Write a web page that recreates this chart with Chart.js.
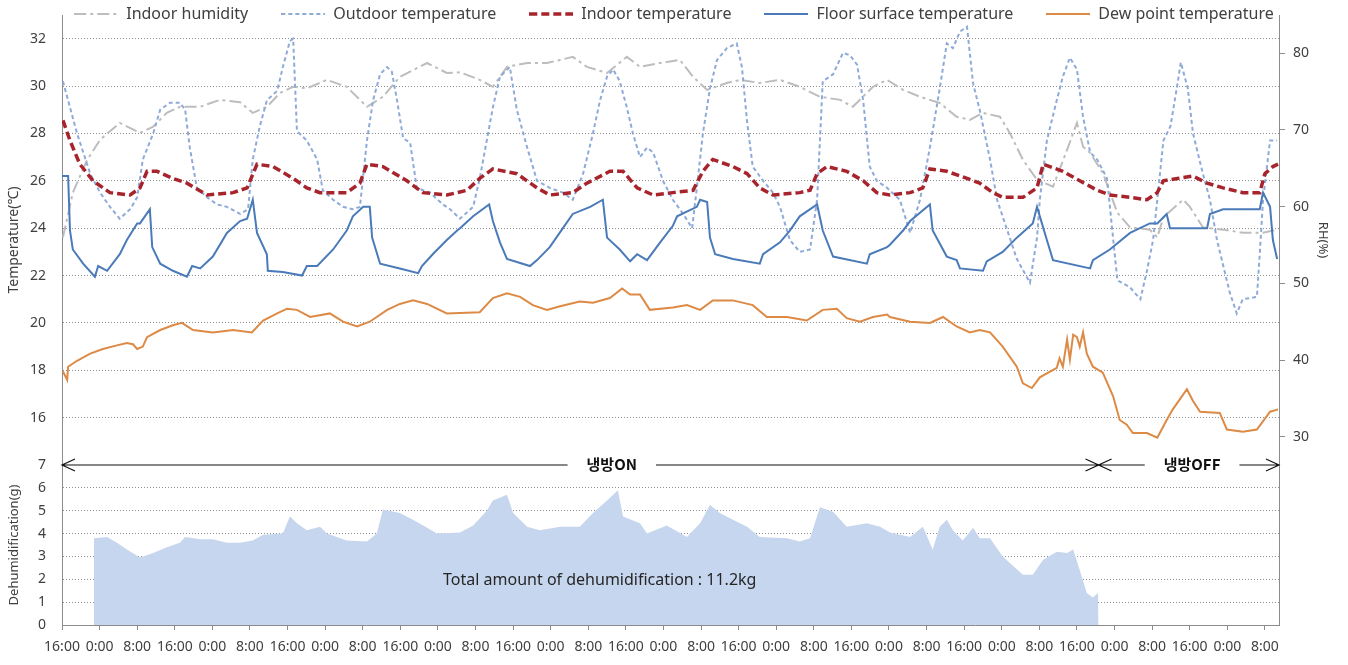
<!DOCTYPE html>
<html lang="en"><head><meta charset="utf-8"><title>Temperature, humidity and dehumidification</title>
<script src="https://cdn.jsdelivr.net/npm/chart.js@4/dist/chart.umd.min.js"></script>
<style>
html,body{margin:0;padding:0;background:#ffffff;overflow:hidden;}
#box{position:relative;width:1348px;height:665px;}
</style></head>
<body><div id="box"><canvas id="chart" width="1348" height="665"></canvas></div>
<script>
// ---------- data (hours counted from the first 16:00 tick) ----------
const seriesNames = ['Indoor humidity','Outdoor temperature','Indoor temperature','Floor surface temperature','Dew point temperature','Dehumidification'];
const xTickLabels = ['16:00','0:00','8:00','16:00','0:00','8:00','16:00','0:00','8:00','16:00','0:00',
  '8:00','16:00','0:00','8:00','16:00','0:00','8:00','16:00','0:00','8:00','16:00','0:00',
  '8:00','16:00','0:00','8:00','16:00','0:00','8:00','16:00','0:00','8:00'];
const tempTicks = [16,18,20,22,24,26,28,30,32];
const rhTicks = [30,40,50,60,70,80];
const dehumTicks = [0,1,2,3,4,5,6,7];

const humHours = [0.2,2.3,5.3,8.1,12.3,16.6,19.4,22.3,25.1,29.4,33.6,37.9,40.6,43.6,46.4,49.2,52.1,56.4,60.6,63.4,64.9,68.3,71.9,77.7,81.9,84.7,88.9,91.7,94.7,99.0,103.2,106.0,108.7,111.7,116.0,120.2,123.0,127.3,131.5,134.3,137.3,141.5,144.3,148.5,152.8,157.0,161.3,165.6,168.3,172.6,175.6,179.0,182.6,186.8,190.4,193.2,196.0,199.6,201.7,204.5,207.5,210.9,213.9,216.0,217.3,218.8,221.5,224.6,227.3,231.5,233.1,234.4,238.6,240.0,242.8,247.1,251.3,255.6,258.6];
const humValues = [56.0,61.8,66.0,68.7,70.9,69.6,70.4,72.2,73.0,73.0,73.9,73.6,72.2,73.0,74.8,75.6,75.4,76.5,75.6,73.9,73.0,74.3,76.9,78.7,77.4,77.5,76.5,75.6,78.2,78.7,78.7,79.1,79.5,78.2,77.4,79.5,78.2,78.7,79.1,76.9,75.2,76.1,76.5,76.1,76.5,75.6,74.3,73.9,73.0,75.6,76.5,75.2,74.3,73.5,71.7,71.3,72.2,71.7,69.6,66.1,63.5,62.6,67.4,70.9,67.8,67.0,64.4,59.2,57.3,57.0,56.0,58.6,60.9,60.0,57.3,57.0,56.6,56.6,57.0];

const outHours = [0.2,3.2,6.0,8.1,10.2,12.3,14.5,16.0,17.2,19.4,20.9,23.0,25.1,26.2,27.2,28.7,30.9,33.0,35.1,37.9,39.6,40.6,42.1,43.6,45.8,47.0,48.5,49.2,50.0,52.1,54.3,55.5,57.7,59.8,61.9,63.4,64.9,66.2,67.7,69.2,70.2,71.3,72.6,74.1,75.5,78.3,81.1,82.6,84.7,87.5,88.9,90.4,91.7,93.2,95.3,96.8,99.0,101.1,103.8,106.6,108.7,110.9,113.0,114.5,116.0,117.3,118.7,120.2,121.5,123.0,124.5,125.8,127.9,130.0,132.2,134.1,135.1,136.4,137.9,139.4,141.5,143.6,144.7,145.8,147.0,149.2,151.3,152.8,154.9,157.0,159.2,160.2,160.7,161.9,164.1,166.2,167.7,169.2,170.5,171.9,173.4,175.6,178.3,180.5,182.6,184.7,186.8,188.3,189.6,191.1,192.6,193.9,195.3,197.5,199.0,203.2,206.0,207.5,208.1,209.6,211.7,213.0,214.5,216.0,217.3,218.8,220.3,222.4,224.6,227.3,229.5,230.9,232.2,233.1,234.4,235.9,237.4,238.1,239.6,240.7,242.8,244.3,245.8,248.5,250.0,251.3,254.3,254.9,255.6,257.1,258.6];
const outValues = [30.2,28.0,26.3,25.5,24.9,24.4,24.8,25.3,26.9,28.0,29.0,29.3,29.3,29.0,27.4,25.7,25.3,25.0,24.9,24.6,24.8,26.9,28.3,29.4,29.8,30.8,31.9,32.0,28.1,27.7,26.9,25.6,25.2,24.9,24.8,24.9,27.7,29.4,30.5,30.8,30.6,29.4,27.8,27.6,25.7,25.5,25.0,24.8,24.4,24.9,26.1,27.7,29.1,30.4,30.8,29.0,27.4,26.0,25.7,25.5,25.2,26.3,28.0,29.4,30.4,30.7,30.2,29.1,28.0,27.0,27.4,27.2,26.0,25.2,24.6,24.0,25.7,28.0,29.9,31.1,31.6,31.8,30.8,28.5,26.6,26.0,25.5,24.9,23.5,23.0,23.1,24.5,25.2,30.2,30.5,31.4,31.3,30.9,29.4,26.6,26.0,25.7,25.2,23.8,25.2,27.4,29.9,31.8,31.6,32.3,32.5,30.1,29.0,26.9,25.2,22.7,21.7,23.6,25.2,27.7,29.4,30.4,31.2,30.7,28.7,27.2,26.9,26.1,21.8,21.5,21.0,22.2,23.5,25.2,27.7,28.3,30.1,31.0,29.9,28.0,26.3,25.2,23.5,21.3,20.4,21.0,21.1,22.9,25.2,27.7,27.7];

const inHours = [0.2,1.7,3.8,6.6,10.2,14.5,16.6,18.1,20.2,23.6,26.6,30.9,36.4,39.4,41.5,44.9,49.2,52.1,54.9,60.6,63.4,64.9,68.3,73.4,76.8,81.9,86.2,88.9,91.7,96.8,101.1,103.8,108.7,111.7,116.6,119.4,122.4,125.8,130.0,134.3,136.4,138.5,142.8,145.8,148.5,151.3,157.0,159.2,160.7,162.8,167.0,170.5,173.4,176.2,180.5,183.2,184.7,188.3,192.6,195.3,198.1,200.2,204.5,207.5,208.8,213.0,216.6,220.3,223.0,227.3,230.9,233.1,234.4,237.4,240.7,243.7,247.1,251.3,254.9,256.0,257.7,258.8];
const inValues = [28.55,27.7,26.7,26.0,25.5,25.4,25.7,26.4,26.4,26.1,25.9,25.4,25.5,25.7,26.7,26.6,26.1,25.7,25.5,25.5,25.9,26.7,26.6,26.0,25.5,25.4,25.6,26.1,26.5,26.3,25.7,25.4,25.5,25.9,26.4,26.4,25.7,25.4,25.5,25.6,26.4,26.9,26.6,26.3,25.7,25.4,25.5,25.6,26.3,26.6,26.4,26.0,25.5,25.4,25.5,25.7,26.5,26.4,26.1,25.9,25.5,25.3,25.3,25.7,26.7,26.4,26.0,25.6,25.4,25.3,25.2,25.5,26.0,26.1,26.2,25.9,25.7,25.5,25.5,26.3,26.6,26.7];

const floorHours = [0,1.3,1.7,2.3,4.5,7.0,7.7,9.6,12.3,13.8,16.0,16.6,18.7,19.2,20.9,23.6,26.6,27.7,29.4,32.1,35.1,37.9,39.4,40.6,41.5,43.6,43.8,47.0,51.1,52.1,54.3,57.7,60.6,61.9,64.1,65.5,66.0,67.7,71.9,75.8,76.6,78.9,81.9,84.1,84.7,87.5,90.9,91.7,93.2,94.7,99.6,101.1,103.8,106.6,108.7,112.4,115.1,116.0,118.7,120.9,122.4,124.5,127.3,130.0,130.9,135.1,135.8,137.3,137.9,139.0,142.8,148.5,149.2,152.8,154.9,157.0,160.7,161.9,164.1,171.3,171.9,175.6,176.2,179.0,180.5,184.7,185.3,188.3,190.4,191.1,196.0,196.8,200.2,203.2,206.6,207.5,209.6,210.9,218.8,219.4,223.0,227.3,231.5,233.1,235.1,235.8,243.7,244.3,247.1,254.9,255.6,257.1,257.7,258.6];
const floorValues = [26.2,26.2,23.9,23.1,22.5,21.95,22.4,22.2,22.9,23.5,24.2,24.2,24.8,23.2,22.5,22.2,21.95,22.4,22.3,22.8,23.8,24.3,24.4,25.2,23.8,22.9,22.2,22.15,22.0,22.4,22.4,23.1,23.9,24.5,24.9,24.9,23.6,22.5,22.3,22.1,22.4,22.9,23.5,23.9,24.0,24.5,25.0,24.3,23.4,22.7,22.4,22.65,23.2,24.0,24.6,24.9,25.2,23.6,23.1,22.6,22.9,22.65,23.4,24.1,24.5,24.9,25.2,25.1,23.6,22.9,22.7,22.5,22.9,23.4,23.9,24.5,25.0,23.9,22.8,22.5,22.9,23.2,23.3,23.9,24.3,25.0,23.9,22.8,22.65,22.3,22.2,22.6,23.0,23.6,24.2,24.9,23.5,22.65,22.3,22.65,23.1,23.8,24.2,24.2,24.6,24.0,24.0,24.6,24.8,24.8,25.5,24.9,23.5,22.7];

const dewHours = [0.2,1.1,1.3,3.2,6.0,8.7,11.7,13.8,15.1,16.0,17.2,18.1,20.9,23.6,25.5,27.9,32.1,36.4,40.4,42.8,45.8,47.9,50.0,52.8,57.0,59.8,62.8,65.5,69.2,71.9,74.7,77.7,81.9,88.9,91.7,94.7,97.5,100.2,103.2,106.0,110.2,113.0,116.6,119.2,120.9,123.0,125.1,130.0,133.0,135.8,138.5,142.8,147.0,150.0,154.3,158.5,161.9,164.9,167.0,169.8,172.6,175.6,176.2,180.5,184.7,187.5,190.4,193.2,195.3,197.5,200.2,203.2,204.5,206.4,208.1,211.7,212.3,213.0,213.9,214.5,215.2,216.0,216.6,217.3,218.1,219.4,221.5,223.7,225.1,226.6,227.9,230.9,233.1,235.1,236.4,239.4,240.7,242.2,246.4,247.9,251.3,254.3,257.1,258.8];
const dewValues = [17.95,17.6,18.15,18.4,18.7,18.9,19.05,19.15,19.1,18.9,19.0,19.4,19.7,19.9,20.0,19.7,19.6,19.7,19.6,20.1,20.4,20.6,20.55,20.25,20.4,20.05,19.85,20.05,20.55,20.8,20.95,20.8,20.4,20.45,21.05,21.25,21.1,20.75,20.55,20.7,20.9,20.85,21.05,21.45,21.2,21.2,20.55,20.65,20.75,20.55,20.95,20.95,20.75,20.25,20.25,20.1,20.55,20.6,20.2,20.05,20.25,20.35,20.25,20.05,20.0,20.25,19.85,19.6,19.7,19.6,19.0,18.15,17.45,17.25,17.7,18.1,18.5,18.15,19.3,18.45,19.5,19.4,19.0,19.6,18.7,18.15,17.9,16.9,15.9,15.7,15.35,15.35,15.15,15.9,16.35,17.2,16.7,16.25,16.2,15.5,15.4,15.5,16.25,16.35];

const dehumHours = [6.7,6.8,9.6,11.7,13.8,16.6,19.4,22.3,25.1,26.2,29.4,32.1,35.1,37.9,40.6,42.8,47.0,48.5,50.0,52.1,54.9,56.4,60.6,64.9,67.0,68.3,71.9,74.7,77.7,79.8,84.7,87.5,90.4,91.7,94.7,96.0,99.0,101.7,106.0,110.2,113.0,116.0,118.3,119.4,123.0,124.5,128.7,133.0,135.8,137.9,140.0,142.8,145.8,148.5,154.3,157.0,159.2,161.3,164.1,167.0,171.3,174.1,176.2,180.5,183.2,185.3,186.8,188.3,189.6,191.7,193.9,195.3,197.5,200.2,204.5,206.6,208.8,211.7,213.9,215.2,216.6,218.1,219.4,220.5,220.6];
const dehumValues = [0,3.8,3.85,3.6,3.3,2.95,3.15,3.4,3.6,3.85,3.75,3.75,3.6,3.6,3.7,3.95,4.0,4.75,4.45,4.15,4.3,4.0,3.7,3.65,4.0,5.05,4.9,4.6,4.25,4.0,4.05,4.35,5.0,5.45,5.7,4.9,4.3,4.15,4.3,4.3,4.9,5.45,5.9,4.75,4.45,4.0,4.35,3.85,4.45,5.25,4.9,4.6,4.3,3.85,3.8,3.65,3.8,5.15,4.95,4.3,4.45,4.3,4.05,3.85,4.3,3.3,4.3,4.6,4.15,3.7,4.25,3.8,3.8,3.0,2.2,2.2,2.85,3.2,3.15,3.3,2.4,1.4,1.2,1.4,0];

const phaseLabels = ['냉방ON','냉방OFF'];
const phaseStart = [0, 220.6];
const phaseEnd = [220.6, 259];
const phaseLabelAt = [117.0, 240.5];
const totalText = 'Total amount of dehumidification : 11.2kg';
const totalTextHour = 81.1;
const totalTextValue = 1.97;

// ---------- helpers ----------
function pts(h, v){ const n = Math.min(h.length, v.length); const out = []; for (let i = 0; i < n; i++) out.push({x: h[i], y: v[i]}); return out; }
function sample(color, width, dash){
  const c = document.createElement('canvas'); c.width = 44; c.height = 8;
  const g = c.getContext('2d'); g.strokeStyle = color; g.lineWidth = width; g.setLineDash(dash || []);
  g.beginPath(); g.moveTo(0, 4); g.lineTo(44, 4); g.stroke(); return c;
}
function zeroPad(s){ s.paddingTop = 0; s.paddingBottom = 0; s.paddingLeft = 0; s.paddingRight = 0; }
const tickSetter = arr => scale => { scale.ticks = arr.map(v => ({value: v})); };

// the legend overlaps the top of the plot as in the original, so do not clip it to its own box
(function(){
  const L = Chart.Legend && Chart.Legend._element;
  if (L && L.prototype && typeof L.prototype._draw === 'function') {
    L.prototype.draw = function(){ if (this.options.display) this._draw(); };
  }
})();

Chart.defaults.font.family = "'Noto Sans', 'Noto Sans CJK KR', sans-serif";
Chart.defaults.font.size = 13;
Chart.defaults.color = '#404040';

const GRID = '#8f8f8f';
const AXIS = '#8c8c8c';

const notes = {
  id: 'phaseNotes',
  afterDatasetsDraw(chart){
    const {ctx} = chart; const x = chart.scales.x, yD = chart.scales.yD;
    const y = yD.getPixelForValue(7);
    ctx.save();
    ctx.strokeStyle = '#111'; ctx.fillStyle = '#111'; ctx.lineWidth = 1.2;
    ctx.font = "bold 15px 'Noto Sans CJK KR', sans-serif";
    ctx.textAlign = 'center'; ctx.textBaseline = 'middle';
    for (let i = 0; i < phaseLabels.length; i++){
      const x0 = x.getPixelForValue(phaseStart[i]), x1 = x.getPixelForValue(phaseEnd[i]), xc = x.getPixelForValue(phaseLabelAt[i]);
      const gap = ctx.measureText(phaseLabels[i]).width / 2 + 19;
      ctx.beginPath();
      ctx.moveTo(x0, y); ctx.lineTo(xc - gap, y);
      ctx.moveTo(xc + gap, y); ctx.lineTo(x1, y);
      ctx.moveTo(x0 + 13, y - 6); ctx.lineTo(x0, y); ctx.lineTo(x0 + 13, y + 6);
      ctx.moveTo(x1 - 13, y - 6); ctx.lineTo(x1, y); ctx.lineTo(x1 - 13, y + 6);
      ctx.stroke();
      ctx.fillText(phaseLabels[i], xc, y - 1);
    }
    ctx.font = "16px 'Noto Sans', sans-serif"; ctx.textAlign = 'left'; ctx.fillStyle = '#262626';
    ctx.fillText(totalText, x.getPixelForValue(totalTextHour), yD.getPixelForValue(totalTextValue));
    ctx.restore();
  }
};

const common = {pointRadius: 0, pointHoverRadius: 0, tension: 0, fill: false, xAxisID: 'x'};

new Chart(document.getElementById('chart'), {
  type: 'line',
  data: {
    datasets: [
      Object.assign({label: seriesNames[0], data: pts(humHours, humValues), yAxisID: 'yRH', borderColor: '#bdbdbd', borderWidth: 2, borderDash: [12,4,3,4], order: 5}, common),
      Object.assign({label: seriesNames[1], data: pts(outHours, outValues), yAxisID: 'yT', borderColor: '#8eaad8', borderWidth: 2, borderDash: [4,3], order: 4}, common),
      Object.assign({label: seriesNames[2], data: pts(inHours, inValues), yAxisID: 'yT', borderColor: '#a8242c', borderWidth: 3.5, borderDash: [8,4], order: 3}, common),
      Object.assign({label: seriesNames[3], data: pts(floorHours, floorValues), yAxisID: 'yT', borderColor: '#4a7ab8', borderWidth: 2, order: 2}, common),
      Object.assign({label: seriesNames[4], data: pts(dewHours, dewValues), yAxisID: 'yT', borderColor: '#dc8a45', borderWidth: 2, order: 1}, common),
      Object.assign({}, common, {label: seriesNames[5], data: pts(dehumHours, dehumValues), yAxisID: 'yD', borderWidth: 0, borderColor: 'rgba(0,0,0,0)', backgroundColor: '#c6d6ee', fill: 'origin', order: 6})
    ]
  },
  options: {
    responsive: false, animation: false, devicePixelRatio: 1,
    layout: {padding: {top: -27, left: 0, right: 0, bottom: 0}},
    plugins: {
      tooltip: {enabled: false},
      legend: {
        display: true, position: 'top', maxHeight: 42,
        labels: {
          usePointStyle: true, pointStyleWidth: 44, padding: 33, color: '#404040',
          font: {size: 16},
          filter: item => item.datasetIndex < 5,
          sort: (a, b) => a.datasetIndex - b.datasetIndex,
          generateLabels(chart){
            const items = Chart.defaults.plugins.legend.labels.generateLabels(chart);
            items.forEach(it => { const ds = chart.data.datasets[it.datasetIndex]; it.pointStyle = sample(ds.borderColor, ds.borderWidth, ds.borderDash); });
            return items;
          }
        }
      }
    },
    scales: {
      x: {
        type: 'linear', position: 'bottom', min: 0, max: 259,
        afterBuildTicks: scale => { scale.ticks = xTickLabels.map((_, i) => ({value: i * 8})); },
        afterFit: s => { s.height = 40; zeroPad(s); },
        ticks: {autoSkip: false, maxRotation: 0, minRotation: 0, padding: 9, color: '#404040', font: {size: 14}, callback: (v, i) => xTickLabels[i]},
        grid: {drawOnChartArea: false, drawTicks: true, tickLength: 5, color: AXIS},
        border: {display: true, color: AXIS}
      },
      yD: {
        type: 'linear', position: 'left', stack: 'L', stackWeight: 160, min: 0, max: 7,
        afterBuildTicks: tickSetter(dehumTicks),
        afterFit: s => { s.width = 62; zeroPad(s); },
        ticks: {autoSkip: false, padding: 16, color: '#404040', font: {size: 14}},
        grid: {drawTicks: false, color: c => (c.tick && (c.tick.value === 0 || c.tick.value === 7)) ? 'rgba(0,0,0,0)' : GRID},
        border: {display: true, color: AXIS, dash: [1,2]},
        title: {display: true, text: 'Dehumidification(g)', padding: {top: 6, bottom: 0}, color: '#404040', font: {size: 13}}
      },
      yT: {
        type: 'linear', position: 'left', stack: 'L', stackWeight: 450, min: 14, max: 33,
        afterBuildTicks: tickSetter(tempTicks),
        afterFit: s => { s.width = 62; zeroPad(s); },
        ticks: {autoSkip: false, padding: 16, color: '#404040', font: {size: 14}},
        grid: {drawTicks: false, color: GRID},
        border: {display: true, color: AXIS, dash: [1,2]},
        title: {display: true, text: 'Temperature(℃)', padding: {top: 6, bottom: 0}, color: '#404040', font: {size: 14}}
      },
      yRH: {
        type: 'linear', position: 'right', stack: 'R', stackWeight: 450, min: 26.35, max: 84.95,
        afterBuildTicks: tickSetter(rhTicks),
        afterFit: s => { s.width = 69; zeroPad(s); },
        ticks: {autoSkip: false, padding: 8, color: '#404040', font: {size: 14}},
        grid: {drawOnChartArea: false, drawTicks: true, tickLength: 6, color: AXIS},
        border: {display: true, color: AXIS},
        title: {display: true, text: 'RH(%)', padding: {top: 17, bottom: 0}, color: '#404040', font: {size: 13}}
      },
      yR2: {
        type: 'linear', position: 'right', stack: 'R', stackWeight: 160, min: 0, max: 1,
        afterFit: s => { s.width = 69; zeroPad(s); },
        ticks: {display: false},
        grid: {display: false, drawTicks: false},
        border: {display: true, color: AXIS}
      }
    }
  },
  plugins: [notes]
});
</script>
</body></html>
